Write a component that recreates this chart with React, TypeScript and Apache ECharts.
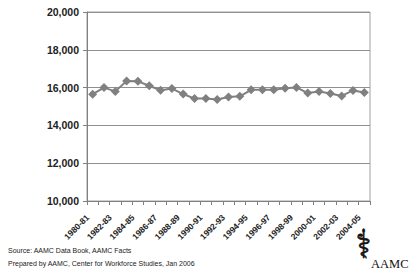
import React, { useEffect, useRef } from "react";
import * as echarts from "echarts";

const categories = [
  "1980-81", "1981-82", "1982-83", "1983-84", "1984-85", "1985-86", "1986-87",
  "1987-88", "1988-89", "1989-90", "1990-91", "1991-92", "1992-93", "1993-94",
  "1994-95", "1995-96", "1996-97", "1997-98", "1998-99", "1999-00", "2000-01",
  "2001-02", "2002-03", "2003-04", "2004-05",
];
const values = [
  15650, 16000, 15800, 16350, 16330, 16100, 15860, 15950, 15660, 15420,
  15420, 15370, 15500, 15540, 15880, 15890, 15890, 15970, 16010, 15710,
  15790, 15690, 15560, 15850, 15740,
];
const yTicks = { min: 10000, max: 20000, interval: 2000 };
const footerLines = [
  "Source: AAMC Data Book, AAMC Facts",
  "Prepared by AAMC, Center for Workforce Studies, Jan 2006",
];

export default function App() {
  const ref = useRef<HTMLDivElement>(null);
  useEffect(() => {
    const chart = echarts.init(ref.current!, null, { renderer: "svg" });
    chart.setOption({
      animation: false,
      backgroundColor: "#ffffff",
      grid: {
        left: 87, right: 40, top: 12, bottom: 74,
        show: true, borderColor: "#a0a0a0", borderWidth: 1,
      },
      xAxis: {
        type: "category",
        data: categories,
        boundaryGap: true,
        axisLine: { lineStyle: { color: "#808080", width: 1 } },
        axisTick: { show: true, alignWithLabel: false, length: 4, interval: 0, lineStyle: { color: "#808080" } },
        axisLabel: {
          interval: 1,
          rotate: 45,
          margin: 10,
          fontSize: 8.5,
          fontWeight: "bold",
          fontFamily: "Liberation Sans, Arial, sans-serif",
          color: "#222",
          formatter: (v: string) => v + "   ",
        },
      },
      yAxis: {
        type: "value",
        min: yTicks.min,
        max: yTicks.max,
        interval: yTicks.interval,
        axisLine: { show: true, lineStyle: { color: "#808080", width: 1 } },
        axisTick: { show: true, length: 4, lineStyle: { color: "#808080" } },
        splitLine: { lineStyle: { color: "#909090", width: 1 } },
        axisLabel: {
          margin: 8,
          fontSize: 10.5,
          fontWeight: "bold",
          fontFamily: "Liberation Sans, Arial, sans-serif",
          color: "#222",
          formatter: (v: number) => v.toLocaleString("en-US"),
        },
      },
      series: [
        {
          type: "line",
          data: values,
          symbol: "diamond",
          symbolSize: 9,
          showAllSymbol: true,
          lineStyle: { color: "#808080", width: 2 },
          itemStyle: { color: "#808080" },
        },
      ],
      graphic: [
        {
          type: "text", left: 8, top: 247,
          style: { text: footerLines[0], fontSize: 7, fontFamily: "Liberation Sans, Arial, sans-serif", fill: "#222" },
        },
        {
          type: "text", left: 8, top: 260,
          style: { text: footerLines[1], fontSize: 7, fontFamily: "Liberation Sans, Arial, sans-serif", fill: "#222" },
        },
        {
          type: "text", x: 356, y: 224, scaleX: 0.7,
          style: { text: "\u2695", fontSize: 40, fontFamily: "DejaVu Sans", fill: "#111", stroke: "#111", lineWidth: 0.8 },
        },
        {
          type: "text", left: 371, top: 257,
          style: { text: "AAMC", fontSize: 12.5, fontFamily: "Liberation Serif, serif", fill: "#111" },
        },
      ],
    });
    return () => chart.dispose();
  }, []);
  return <div ref={ref} style={{ width: 410, height: 275, position: "absolute", left: 0, top: 0 }} />;
}
